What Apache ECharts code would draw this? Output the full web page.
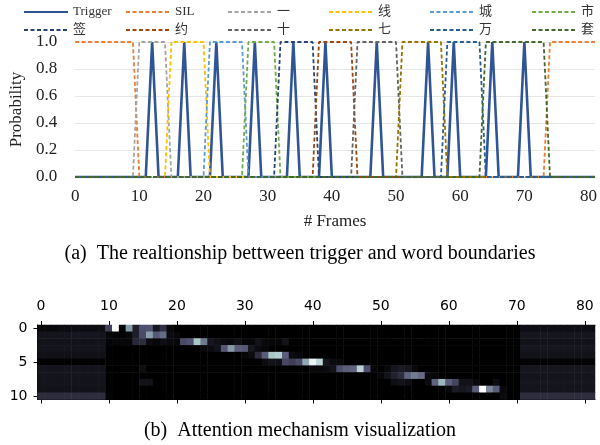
<!DOCTYPE html>
<html>
<head>
<meta charset="utf-8">
<script src="https://cdn.jsdelivr.net/npm/echarts@6/dist/echarts.min.js"></script>
<style>
  html, body { margin: 0; padding: 0; background: #fff; }
  #main { width: 600px; height: 445px; }
</style>
</head>
<body>
<div id="main"></div>
<script>
// ---- data ----
const frameMax = 81;
const triggerFrames = [12, 17, 22, 28, 34, 39, 47, 55, 59, 65, 70];
const wordNames = ['SIL', '一', '线', '城', '市', '签', '约', '十', '七', '万', '套'];
// frames where each word boundary curve sits at 1.0
const wordSpans = [
  [[0, 9], [74, 81]],
  [[10, 14]],
  [[15, 20]],
  [[21, 26]],
  [[27, 31]],
  [[32, 37]],
  [[38, 43]],
  [[44, 50]],
  [[51, 57]],
  [[58, 63]],
  [[64, 73]]
];
const wordColors = ['#ED7D31', '#A5A5A5', '#FFC000', '#5B9BD5', '#70AD47',
  '#264478', '#9E480E', '#636363', '#997300', '#255E91', '#43682B'];
const triggerColor = '#2F5597';

// attention weights (x100), one array per output token row, 82 frames each
const att0 = [4,4,4,5,5,5,5,5,5,6, 28,100,2,60,14,35,36,10,22,4, 0,0,0,0,0,0,0,0,0,0, 0,0,0,0,0,0,0,0,0,0,
  0,0,0,0,0,0,0,0,0,0, 0,0,0,0,0,0,0,0,0,0, 0,0,0,0,0,0,0,0,0,0, 0,6,6,6,6,6,6,6,6,6, 6,6];
const att1 = [9,9,9,9,9,10,10,10,10,9, 3,2,2,4,14,33,62,38,45,5, 3,0,0,0,0,0,0,0,0,0, 0,0,0,0,0,0,0,0,0,0,
  0,0,0,0,0,0,0,0,0,0, 0,0,0,0,0,0,0,0,0,0, 0,0,0,0,0,0,0,0,0,0, 0,10,10,10,10,10,10,10,10,10, 10,10];
const att2 = [8,8,8,8,8,8,8,8,8,8, 2,3,3,3,18,20,5,3,6,4, 3,33,36,75,50,10,7,5,4,7, 3,3,8,4,3,3,8,0,0,0,
  0,0,0,0,0,0,0,0,0,0, 0,0,0,0,0,0,0,0,0,0, 0,0,0,0,0,0,0,0,0,0, 0,8,8,8,8,8,8,8,8,8, 8,8];
const att3 = [9,9,9,9,9,9,9,9,9,9, 0,0,0,0,0,0,0,0,0,0, 0,0,0,0,4,5,8,38,60,40, 38,10,5,3,0,0,0,0,0,0,
  0,0,0,0,0,0,0,0,0,0, 0,0,0,0,0,0,0,0,0,0, 0,0,0,0,0,0,0,0,0,0, 0,10,10,10,10,10,10,10,10,10, 10,10];
const att4 = [7,7,7,7,7,7,7,7,7,7, 0,0,0,0,0,0,0,0,0,0, 0,0,0,0,0,0,0,0,0,0, 3,5,20,40,75,78,40,5,4,0,
  0,0,0,0,0,0,0,0,0,0, 0,0,0,0,0,0,0,0,0,0, 0,0,0,0,0,0,0,0,0,0, 0,8,8,8,8,8,8,8,8,8, 8,8];
const att5 = [1,1,1,1,1,1,1,1,1,1, 0,0,0,0,0,0,0,0,0,0, 0,0,0,0,0,0,0,0,0,0, 0,0,0,5,8,7,32,28,33,65,
  95,82,10,5,4,0,0,0,0,0, 0,0,0,0,0,0,0,0,0,0, 0,0,0,0,0,0,0,0,0,0, 0,2,2,2,2,2,2,2,2,2, 2,2];
const att6 = [9,9,9,9,9,9,9,9,9,9, 0,0,0,0,0,6,0,0,0,0, 0,0,0,0,0,0,0,0,0,0, 0,0,0,0,0,0,0,0,0,0,
  4,4,5,8,35,40,42,80,35,3, 0,4,10,12,10,4,0,0,0,0, 0,0,0,0,0,0,0,0,0,0, 0,10,10,10,10,10,10,10,10,10, 10,10];
const att7 = [9,9,9,9,9,9,9,9,9,9, 0,0,0,0,0,0,0,0,0,0, 0,0,0,0,0,0,0,0,0,0, 0,0,0,0,0,0,0,0,0,0,
  0,0,0,0,0,0,0,0,0,0, 3,8,15,20,42,50,45,5,3,0, 0,0,0,0,0,0,0,0,0,0, 0,9,9,9,9,9,9,9,9,9, 9,9];
const att8 = [9,9,9,9,9,9,9,9,9,9, 0,0,0,0,0,8,8,0,0,0, 0,0,0,0,0,0,0,0,0,0, 0,0,0,0,0,0,0,0,0,0,
  0,0,0,0,0,0,0,0,0,0, 0,0,6,8,6,0,0,5,42,70, 40,30,8,8,4,0,0,6,0,0, 0,10,10,10,10,10,10,10,10,10, 10,10];
const att9 = [8,8,8,8,8,8,8,8,8,8, 0,0,0,0,0,0,0,0,0,0, 0,0,0,0,0,0,0,0,0,0, 0,0,0,0,0,0,0,0,0,0,
  0,0,0,0,0,0,0,0,0,0, 0,0,0,0,0,0,0,0,0,0, 4,12,10,12,40,100,55,40,4,0, 0,9,9,9,9,9,9,9,9,9, 9,9];
const att10 = [20,20,20,20,20,20,20,20,20,20, 2,0,0,0,0,0,0,0,0,0, 0,0,0,0,0,0,0,0,0,0, 0,0,0,0,0,0,0,0,0,0,
  0,0,0,0,0,0,0,0,0,0, 0,0,0,0,0,0,0,0,0,0, 0,0,0,0,0,0,0,0,5,0, 0,20,20,20,20,20,20,20,20,20, 20,20];
const attRows = [att0, att1, att2, att3, att4, att5, att6, att7, att8, att9, att10];

const frameLabels = attRows[0].map((_, i) => String(i));
const tokenLabels = attRows.map((_, i) => String(i));

// matplotlib "bone" colormap sampled at 0, 1/8, ... 1
const boneColors = ['#000000', '#1c1c27', '#38384e', '#545574', '#707b8f',
  '#8ba1ab', '#a8c7c7', '#d3e3e3', '#ffffff'];

// ---- build series ----
const frames = [];
for (let f = 0; f <= frameMax; f++) frames.push(f);

const serif = "'Liberation Serif', 'Noto Sans CJK SC', serif";

const lineSeries = [{
  name: 'Trigger',
  type: 'line',
  xAxisIndex: 0, yAxisIndex: 0,
  symbol: 'none',
  lineStyle: { color: triggerColor, width: 2.6 },
  itemStyle: { color: triggerColor },
  data: frames.map(f => [f, triggerFrames.includes(f) ? 1 : 0])
}];
wordNames.forEach((name, i) => {
  const spans = wordSpans[i];
  lineSeries.push({
    name: name,
    type: 'line',
    xAxisIndex: 0, yAxisIndex: 0,
    symbol: 'none',
    lineStyle: { color: wordColors[i], width: 1.8, type: [4, 2.5] },
    itemStyle: { color: wordColors[i] },
    data: frames.map(f => [f, spans.some(s => f >= s[0] && f <= s[1]) ? 1 : 0])
  });
});

const heatData = [];
attRows.forEach((row, r) => row.forEach((v, c) => heatData.push([c, r, v])));

// legend: 6 columns of 2 rows
const legendCols = [['Trigger', '签'], ['SIL', '约'], ['一', '十'], ['线', '七'], ['城', '万'], ['市', '套']];
const legendLefts = [23, 125, 227, 328, 429, 531];
const legends = legendCols.map((names, i) => ({
  orient: 'vertical',
  left: legendLefts[i],
  top: 5,
  padding: 0,
  itemWidth: 44,
  itemHeight: 12,
  itemGap: 4,
  selectedMode: false,
  data: names,
  itemStyle: { opacity: 0 },
  textStyle: { fontFamily: serif, fontSize: 13, color: '#333', lineHeight: 14 }
}));

const option = {
  animation: false,
  backgroundColor: '#fff',
  legend: legends,
  grid: [
    { left: 73, right: 3, top: 42, height: 135 },
    { left: 37.5, width: 557.5, top: 325, height: 74.5 }
  ],
  xAxis: [
    {
      type: 'value', gridIndex: 0, min: 0, max: frameMax, interval: 10,
      name: '# Frames', nameLocation: 'middle', nameGap: 36,
      nameTextStyle: { fontFamily: serif, fontSize: 17, color: '#222' },
      axisLine: { show: true, lineStyle: { color: '#d9d9d9' } },
      axisTick: { show: false },
      splitLine: { show: false },
      axisLabel: { fontFamily: serif, fontSize: 17, color: '#222', margin: 11, showMaxLabel: false }
    },
    {
      type: 'category', gridIndex: 1, position: 'top', data: frameLabels,
      axisLine: { show: true, lineStyle: { color: '#000', width: 1 } },
      axisTick: { show: true, alignWithLabel: true, length: 4, interval: i => i % 10 === 0, lineStyle: { color: '#000' } },
      axisLabel: { interval: i => i % 10 === 0, fontFamily: 'DejaVu Sans', fontSize: 14, color: '#000', margin: 12 },
      splitLine: { show: false }
    },
    {
      type: 'category', gridIndex: 1, position: 'bottom', data: frameLabels,
      axisLine: { show: true, lineStyle: { color: '#000', width: 1 } },
      axisTick: { show: true, alignWithLabel: true, length: 4, interval: i => i % 10 === 0, lineStyle: { color: '#000' } },
      axisLabel: { show: false },
      splitLine: { show: false }
    }
  ],
  yAxis: [
    {
      type: 'value', gridIndex: 0, min: 0, max: 1, interval: 0.2,
      name: 'Probability', nameLocation: 'middle', nameGap: 46, nameRotate: 90,
      nameTextStyle: { fontFamily: serif, fontSize: 17, color: '#222' },
      axisLine: { show: false },
      axisTick: { show: false },
      splitLine: { show: true, lineStyle: { color: '#e6e6e6', width: 1 } },
      axisLabel: { fontFamily: serif, fontSize: 17, color: '#222', margin: 18, formatter: v => v.toFixed(1) }
    },
    {
      type: 'category', gridIndex: 1, inverse: true, data: tokenLabels,
      axisLine: { show: true, lineStyle: { color: '#000', width: 1 } },
      axisTick: { show: true, alignWithLabel: true, length: 4, interval: i => i % 5 === 0, lineStyle: { color: '#000' } },
      axisLabel: { interval: i => i % 5 === 0, fontFamily: 'DejaVu Sans', fontSize: 14, color: '#000', margin: 10 },
      splitLine: { show: false }
    }
  ],
  visualMap: {
    show: false, min: 0, max: 100, seriesIndex: lineSeries.length,
    inRange: { color: boneColors }
  },
  series: lineSeries.concat([{
    type: 'heatmap',
    xAxisIndex: 1, yAxisIndex: 1,
    data: heatData,
    itemStyle: { borderWidth: 0 }
  }]),
  graphic: [
    {
      type: 'text', left: 'center', top: 244,
      style: { text: '(a)  The realtionship bettween trigger and word boundaries', font: "20px 'Liberation Serif'", fill: '#000' }
    },
    {
      type: 'text', left: 'center', top: 421,
      style: { text: '(b)  Attention mechanism visualization', font: "20px 'Liberation Serif'", fill: '#000' }
    }
  ]
};

const myChart = echarts.init(document.getElementById('main'));
myChart.setOption(option);
</script>
</body>
</html>
